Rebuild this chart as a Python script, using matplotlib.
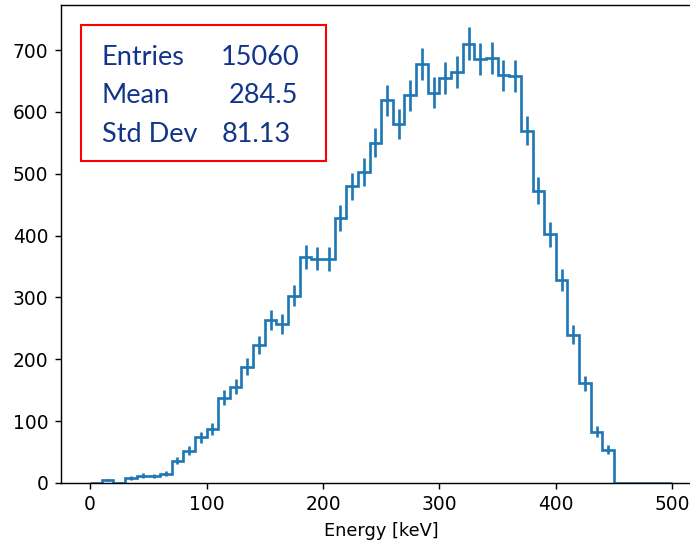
import numpy as np
import matplotlib
matplotlib.use('Agg')
from matplotlib import pyplot as plt
from matplotlib.patches import Rectangle

# 能谱直方图：0-500 keV，每 10 keV 一个 bin
bin_edges = np.linspace(0, 500, 51)
counts = [0, 5, 0, 8, 12, 11, 15, 36, 52, 74,
          87, 138, 156, 188, 223, 263, 257, 303, 366, 363,
          362, 429, 480, 503, 550, 619, 580, 627, 678, 631,
          655, 665, 710, 686, 687, 659, 658, 570, 473, 402,
          328, 240, 161, 83, 54, 0, 0, 0, 0, 0]

# 统计框里的文字
stat_names = ['Entries', 'Mean', 'Std Dev']
stat_values = ['15060', '284.5', '81.13']

counts = np.array(counts, dtype=float)
centers = 0.5 * (bin_edges[:-1] + bin_edges[1:])
errors = np.sqrt(counts)  # 泊松误差

s = 1.28  # 整体放大系数
blue = '#1f77b4'

fig = plt.figure(figsize=(6.9, 5.42), dpi=100)
ax = fig.add_axes([61 / 690, 59 / 542, 640.4 / 690, 478 / 542])

ax.stairs(counts, bin_edges, color=blue, lw=1.5 * s)
ax.errorbar(centers, counts, yerr=errors, fmt='none', ecolor=blue, elinewidth=1.5 * s)

ax.set_xlim(-25, 525)
ax.set_ylim(0, 773)
ax.set_xticks(np.arange(0, 501, 100))
ax.set_yticks(np.arange(0, 701, 100))
ax.tick_params(labelsize=10.5 * s, length=3.5 * s, width=0.8 * s, pad=3.5 * s)
for sp in ax.spines.values():
    sp.set_linewidth(0.8 * s)
ax.set_xlabel('Energy [keV]', fontsize=10 * s, labelpad=4 * s)

# 红框 + 统计信息
fig.add_artist(Rectangle((81 / 690, 1 - 161 / 542), 245 / 690, 136 / 542,
                         transform=fig.transFigure, fill=False, ec='red', lw=1.5))
text_color = '#12358a'
rows_y = [65, 103, 141.5]
value_x = [221, 229, 222]
for name, val, y, vx in zip(stat_names, stat_values, rows_y, value_x):
    fig.text(102 / 690, 1 - y / 542, name, fontsize=19.5, family='Lato',
             color=text_color, va='baseline', ha='left')
    fig.text(vx / 690, 1 - y / 542, val, fontsize=19.5, family='Lato',
             color=text_color, va='baseline', ha='left')

fig.savefig('out.png', dpi=100)
